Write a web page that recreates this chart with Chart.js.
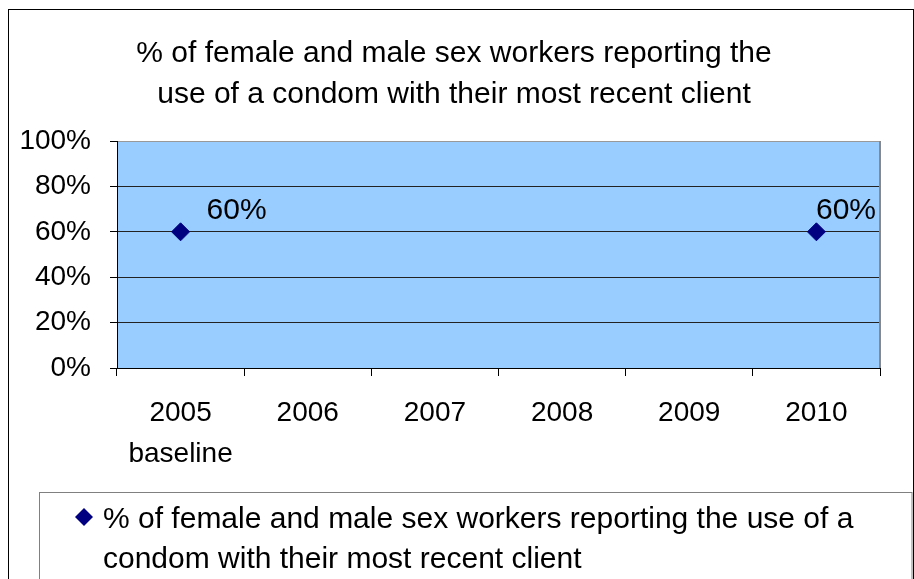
<!DOCTYPE html>
<html>
<head>
<meta charset="utf-8">
<script src="https://cdn.jsdelivr.net/npm/chart.js@4/dist/chart.umd.min.js"></script>
<style>
  html, body { margin:0; padding:0; background:#fff; }
  canvas { display:block; }
</style>
</head>
<body>
<canvas id="chart" width="914" height="579"></canvas>
<script>
// data
const categories = [['2005', 'baseline'], '2006', '2007', '2008', '2009', '2010'];
const values = [60, null, null, null, null, 60];
const yTicks = [0, 20, 40, 60, 80, 100];
const seriesName = '% of female and male sex workers reporting the use of a condom with their most recent client';
const titleLines = ['% of female and male sex workers reporting the', 'use of a condom with their most recent client'];
const legendLines = ['% of female and male sex workers reporting the use of a', 'condom with their most recent client'];

const FONT = '"Liberation Sans", Arial, sans-serif';
const NAVY = '#000080';
const font28 = { family: FONT, size: 28, weight: 'normal', lineHeight: 41 / 28 };
const font30 = { family: FONT, size: 30, weight: 'normal', lineHeight: 41 / 30 };

const frame = {
  id: 'frame',
  afterLayout(chart){
    // title sits centred on the whole frame, not on the area left of the right padding
    const t = chart.titleBlock;
    if (t) { t.left += 14; t.right += 14; }
  },
  beforeDraw(chart){
    const { ctx, chartArea: a } = chart;
    ctx.save();
    ctx.fillStyle = '#fff';
    ctx.fillRect(0, 0, chart.width, chart.height);
    ctx.fillStyle = '#99ccff';
    ctx.fillRect(a.left, a.top, a.right - a.left, a.bottom - a.top);
    ctx.restore();
  },
  beforeDatasetsDraw(chart){
    const { ctx, chartArea: a } = chart;
    ctx.save();
    ctx.strokeStyle = '#888';
    ctx.lineWidth = 2;
    ctx.beginPath();
    ctx.moveTo(a.right, a.top);
    ctx.lineTo(a.right, a.bottom);
    ctx.stroke();
    ctx.restore();
  },
  afterDatasetsDraw(chart){
    // value labels next to the markers
    const { ctx, chartArea: a } = chart;
    const meta = chart.getDatasetMeta(0);
    ctx.save();
    ctx.font = '30px ' + FONT;
    ctx.fillStyle = '#000';
    ctx.textBaseline = 'middle';
    ctx.textAlign = 'left';
    meta.data.forEach((pt, i) => {
      const v = values[i];
      if (v == null) return;
      const txt = v + '%';
      const w = ctx.measureText(txt).width;
      const x = Math.min(pt.x + 26, a.right - 4 - w);
      ctx.fillText(txt, x, pt.y - 21);
    });
    ctx.restore();
  },
  afterDraw(chart){
    const { ctx } = chart;
    ctx.save();
    // outer chart border
    ctx.strokeStyle = '#000';
    ctx.lineWidth = 1;
    ctx.strokeRect(8.5, 9.5, 905, 600);
    // legend box
    const lx = 39.5, ly = 492.5;
    ctx.strokeStyle = '#808080';
    ctx.strokeRect(lx, ly, 912 - lx, 120);
    // legend marker
    const mx = 84, my = 517, r = 9;
    ctx.fillStyle = NAVY;
    ctx.beginPath();
    ctx.moveTo(mx - r, my);
    ctx.lineTo(mx, my - r);
    ctx.lineTo(mx + r, my);
    ctx.lineTo(mx, my + r);
    ctx.closePath();
    ctx.fill();
    // legend text
    ctx.fillStyle = '#000';
    ctx.font = '30px ' + FONT;
    ctx.textBaseline = 'alphabetic';
    ctx.textAlign = 'left';
    legendLines.forEach((line, i) => ctx.fillText(line, 103, 528 + i * 40));
    ctx.restore();
  }
};

new Chart(document.getElementById('chart'), {
  type: 'line',
  data: {
    labels: categories,
    datasets: [{
      label: seriesName,
      data: values,
      showLine: false,
      pointStyle: 'rectRot',
      pointRadius: 9,
      pointHoverRadius: 9,
      pointBorderWidth: 1,
      pointBackgroundColor: NAVY,
      pointBorderColor: NAVY,
      borderColor: NAVY,
      backgroundColor: NAVY
    }]
  },
  options: {
    responsive: false,
    animation: false,
    events: [],
    layout: { padding: { left: 0, right: 34, top: 0, bottom: 111 } },
    plugins: {
      legend: { display: false },
      tooltip: { enabled: false },
      title: {
        display: true,
        text: titleLines,
        color: '#000',
        font: font30,
        padding: { top: 33, bottom: 26 }
      }
    },
    scales: {
      x: {
        offset: true,
        grid: { offset: true, drawOnChartArea: false, drawTicks: true, tickLength: 8, color: '#000' },
        border: { color: '#000' },
        ticks: { color: '#000', font: font28, padding: 17, maxRotation: 0, autoSkip: false },
        afterFit(s){ s.height = 100; }
      },
      y: {
        min: 0,
        max: 100,
        afterBuildTicks(s){ s.ticks = yTicks.map(v => ({ value: v })); },
        grid: {
          color: c => (c.tick && c.tick.value === 100) ? '#999' : '#222',
          tickColor: '#000',
          tickLength: 7
        },
        border: { color: '#000' },
        ticks: { color: '#000', font: font28, padding: 19, callback: v => v + '%' },
        afterFit(s){ s.width = 117; }
      }
    }
  },
  plugins: [frame]
});
</script>
</body>
</html>
